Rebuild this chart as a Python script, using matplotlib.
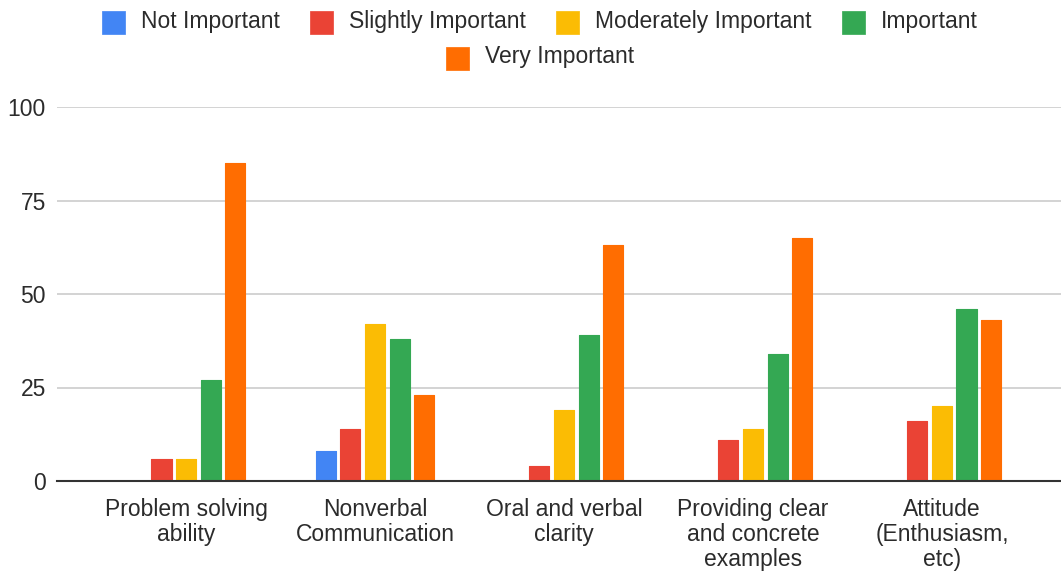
import matplotlib
matplotlib.use("Agg")
import matplotlib.pyplot as plt
from matplotlib.patches import Rectangle
import numpy as np

plt.rcParams['font.family'] = ['Liberation Sans', 'DejaVu Sans']

categories = [
    "Problem solving\nability",
    "Nonverbal\nCommunication",
    "Oral and verbal\nclarity",
    "Providing clear\nand concrete\nexamples",
    "Attitude\n(Enthusiasm,\netc)",
]
series_names = ["Not Important", "Slightly Important", "Moderately Important",
                "Important", "Very Important"]
not_important = [0, 8, 0, 0, 0]
slightly_important = [6, 14, 4, 11, 16]
moderately_important = [6, 42, 19, 14, 20]
important = [27, 38, 39, 34, 46]
very_important = [85, 23, 63, 65, 43]
y_ticks = [0, 25, 50, 75, 100]

colors = ["#4285F4", "#EA4335", "#FBBC04", "#34A853", "#FF6D01"]
series = [not_important, slightly_important, moderately_important,
          important, very_important]

FS = 16.5
W, H = 1061, 571
fig = plt.figure(figsize=(W / 100, H / 100), dpi=100)
ax = fig.add_axes([57 / W, (H - 481) / H, (1061 - 57) / W, (481 - 107) / H])

x = np.arange(len(categories))
step = 0.13
bw = 0.106
for i, (vals, col) in enumerate(zip(series, colors)):
    ax.bar(x + (i - 2) * step, vals, width=bw, color=col, zorder=3,
           edgecolor=col, linewidth=0.8, joinstyle='round')

ax.set_xlim(-0.683, 4.63)
ax.set_ylim(0, 100)
ax.set_yticks(y_ticks)
ax.set_yticklabels([str(t) for t in y_ticks])
ax.set_xticks(x)
ax.set_xticklabels(categories, linespacing=1.12)
ax.tick_params(axis='both', length=0, labelsize=FS)
ax.tick_params(axis='y', pad=8)
ax.tick_params(axis='x', pad=12)
for lbl in ax.get_yticklabels() + ax.get_xticklabels():
    lbl.set_color("#2b2b2b")

ax.grid(axis='y', color="#cccccc", linewidth=1.2, zorder=0)
for s in ["top", "right", "left"]:
    ax.spines[s].set_visible(False)
ax.spines["bottom"].set_color("#333333")
ax.spines["bottom"].set_linewidth(1.5)
ax.spines["bottom"].set_zorder(4)

# Legend, drawn as centred rows of swatches and labels
fig.canvas.draw()
renderer = fig.canvas.get_renderer()
sq = 23
gap_text = 16
gap_item = 30
rows = [[0, 1, 2, 3], [4]]
row_y = [22.5, 58]
center_x = 540
for row, yc in zip(rows, row_y):
    texts = []
    widths = []
    for idx in row:
        t = fig.text(0, 0, series_names[idx], fontsize=FS, color="#2b2b2b",
                     va="center", ha="left")
        texts.append(t)
        widths.append(t.get_window_extent(renderer).width)
    total = sum(sq + gap_text + w for w in widths) + gap_item * (len(row) - 1)
    xpos = center_x - total / 2
    for idx, t, w in zip(row, texts, widths):
        fig.patches.append(Rectangle((xpos / W, (H - yc - sq / 2) / H), sq / W, sq / H,
                                     transform=fig.transFigure, facecolor=colors[idx],
                                     edgecolor=colors[idx], linewidth=0.5,
                                     joinstyle='round', figure=fig))
        t.set_position(((xpos + sq + gap_text) / W, (H - yc + 1) / H))
        xpos += sq + gap_text + w + gap_item

fig.savefig("out.png", dpi=100, facecolor="white")
